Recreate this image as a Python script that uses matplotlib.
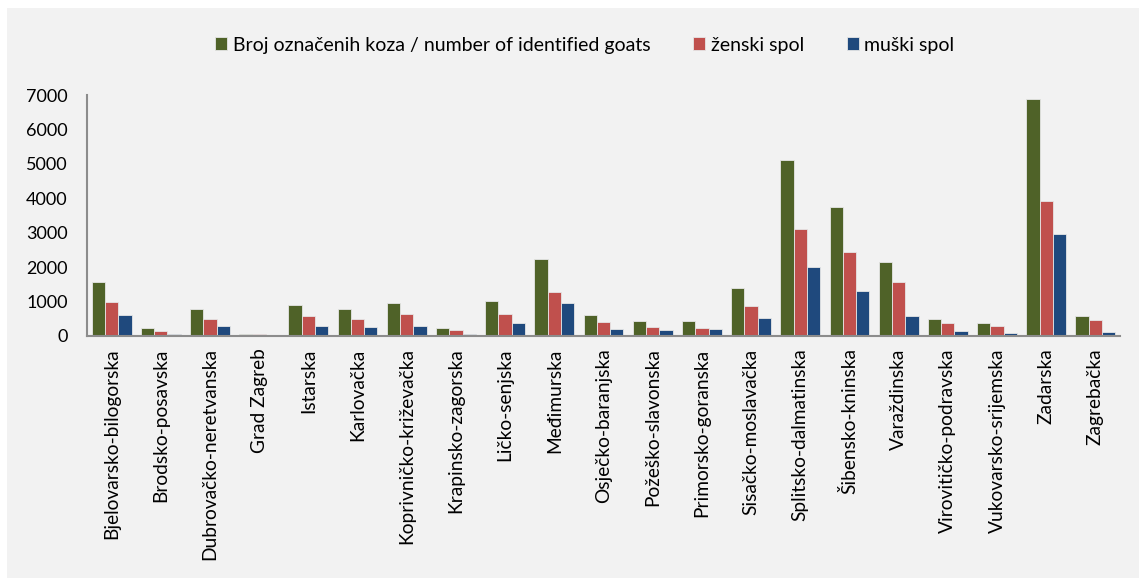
import numpy as np
import matplotlib.pyplot as plt
from matplotlib.patches import Rectangle

plt.rcParams['font.family'] = ['Lato', 'DejaVu Sans']

# counties
zupanije = ["Bjelovarsko-bilogorska", "Brodsko-posavska", "Dubrovačko-neretvanska",
            "Grad Zagreb", "Istarska", "Karlovačka", "Koprivničko-križevačka",
            "Krapinsko-zagorska", "Ličko-senjska", "Međimurska", "Osječko-baranjska",
            "Požeško-slavonska", "Primorsko-goranska", "Sisačko-moslavačka",
            "Splitsko-dalmatinska", "Šibensko-kninska", "Varaždinska",
            "Virovitičko-podravska", "Vukovarsko-srijemska", "Zadarska", "Zagrebačka"]

ukupno = [1570, 230, 785, 55, 890, 775, 960, 230, 1025, 2235, 610,
          435, 435, 1385, 5100, 3740, 2150, 495, 380, 6870, 590]
zenski = [980, 155, 495, 50, 590, 500, 640, 175, 630, 1280, 405,
          260, 230, 870, 3100, 2430, 1580, 370, 290, 3920, 465]
muski = [600, 70, 290, 5, 300, 260, 300, 50, 385, 950, 200,
         165, 195, 520, 1995, 1305, 570, 135, 90, 2950, 115]

labels = ["Broj označenih koza / number of identified goats", "ženski spol", "muški spol"]
colors = ["#4f6228", "#c0504d", "#1f497d"]

fig = plt.figure(figsize=(11.39, 5.78), dpi=100)
fig.patch.set_facecolor("white")
# grey chart area behind everything
fig.patches.append(Rectangle((7 / 1139, 0), 1, 570 / 578, transform=fig.transFigure,
                             facecolor="#f2f2f2", edgecolor="none", zorder=-5))

ax = fig.add_axes([87 / 1139, 1 - 336 / 578, (1120 - 87) / 1139, (336 - 95) / 578])
ax.set_facecolor("#f2f2f2")

x = np.arange(len(zupanije))
w = 0.27
for k, vals in enumerate([ukupno, zenski, muski]):
    ax.bar(x + (k - 1) * w, vals, w, color=colors[k], label=labels[k],
           edgecolor="#e6e6e6", linewidth=0.6)

ax.set_xlim(-0.5, len(zupanije) - 0.5)
ax.set_ylim(0, 7000)
ax.set_yticks(range(0, 7001, 1000))
ax.set_xticks(x)
ax.set_xticklabels(zupanije, rotation=90, fontsize=13.8)
ax.tick_params(axis="both", length=0, colors="black")
ax.tick_params(axis="x", pad=9)
ax.tick_params(axis="y", pad=14, labelsize=13)

for s in ["top", "right"]:
    ax.spines[s].set_visible(False)
for s in ["left", "bottom"]:
    ax.spines[s].set_color("#8c8c8c")
    ax.spines[s].set_linewidth(1.5)

fig.legend(loc="center", bbox_to_anchor=(585 / 1139, 1 - 45 / 578), ncol=3,
           frameon=False, fontsize=14, handlelength=0.6, handleheight=0.6,
           handletextpad=0.3, columnspacing=2.2)

fig.savefig("out.png", dpi=100, facecolor=fig.get_facecolor())
